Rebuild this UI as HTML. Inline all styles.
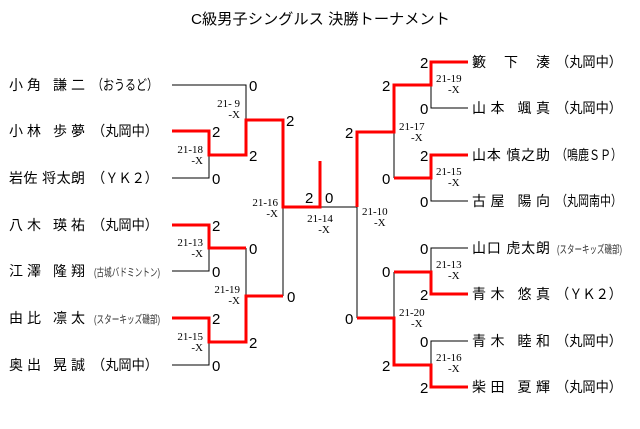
<!DOCTYPE html>
<html><head><meta charset="utf-8"><style>
html,body{margin:0;padding:0;background:#fff;}
svg{display:block;}
.n{font-family:"Liberation Sans","Noto Sans CJK JP",sans-serif;font-size:14px;fill:#000;}
.o{font-family:"Liberation Sans","Noto Sans CJK JP",sans-serif;font-size:14px;fill:#000;}
.os{font-family:"Liberation Sans","Noto Sans CJK JP",sans-serif;font-size:11px;fill:#333;}
.s{font-family:"Liberation Sans",sans-serif;font-size:15px;fill:#000;}
.m{font-family:"Liberation Serif",serif;font-size:11px;fill:#000;}
.t{font-family:"Liberation Sans","Noto Sans CJK JP",sans-serif;font-size:15px;fill:#000;}
</style></head><body>
<svg width="640" height="429" viewBox="0 0 640 429" xmlns="http://www.w3.org/2000/svg">
<text class="t" x="191" y="24" textLength="259" lengthAdjust="spacingAndGlyphs">C級男子シングルス 決勝トーナメント</text>

<g stroke="#000" stroke-width="1" fill="none">
<!-- left -->
<path d="M172 85H246V155"/>
<path d="M172 178H209V131"/>
<path d="M172 271H209V225"/>
<path d="M172 365H209V318"/>
<path d="M246 248V342"/>
<path d="M283 296V207"/>
<path d="M283 207H357"/>
<path d="M357 207V318"/>
<!-- right -->
<path d="M468 108H431V62"/>
<path d="M468 201H431V155"/>
<path d="M394 132V178"/>
<path d="M468 248H431V294"/>
<path d="M468 341H431V387"/>
<path d="M394 272V365"/>
</g>
<g stroke="#f00" stroke-width="3" fill="none" stroke-linejoin="miter">
<path d="M172 131H209V155H246V120H283V207H320V161"/>
<path d="M172 225H209V248H246"/>
<path d="M172 318H209V342H246V296H283"/>
<path d="M357 207V132H394V85H431V62H468"/>
<path d="M394 178H431V155H468"/>
<path d="M357 318H394V365H431V387H468"/>
<path d="M394 272H431V294H468"/>
</g>

<!-- left names -->
<g>
<text class="n" x="9" y="90" textLength="76" lengthAdjust="spacing">小角 謙二</text><text class="o" x="92" y="90" textLength="66" lengthAdjust="spacingAndGlyphs">（おうるど）</text>
<text class="n" x="9" y="136" textLength="76" lengthAdjust="spacing">小林 歩夢</text><text class="o" x="92" y="136" textLength="66" lengthAdjust="spacingAndGlyphs">（丸岡中）</text>
<text class="n" x="9" y="183" textLength="76" lengthAdjust="spacing">岩佐 将太朗</text><text class="o" x="92" y="183" textLength="66" lengthAdjust="spacingAndGlyphs">（ＹＫ２）</text>
<text class="n" x="9" y="230" textLength="76" lengthAdjust="spacing">八木 瑛祐</text><text class="o" x="92" y="230" textLength="66" lengthAdjust="spacingAndGlyphs">（丸岡中）</text>
<text class="n" x="9" y="276" textLength="76" lengthAdjust="spacing">江澤 隆翔</text><text class="os" x="94" y="276" textLength="66" lengthAdjust="spacingAndGlyphs">(古城バドミントン)</text>
<text class="n" x="9" y="323" textLength="76" lengthAdjust="spacing">由比 凛太</text><text class="os" x="94" y="323" textLength="66" lengthAdjust="spacingAndGlyphs">(スターキッズ磯部)</text>
<text class="n" x="9" y="370" textLength="76" lengthAdjust="spacing">奥出 晃誠</text><text class="o" x="92" y="370" textLength="66" lengthAdjust="spacingAndGlyphs">（丸岡中）</text>
</g>
<!-- right names -->
<g>
<text class="n" x="472" y="67" textLength="78" lengthAdjust="spacing">籔 下  湊</text><text class="o" x="556" y="67" textLength="66" lengthAdjust="spacingAndGlyphs">（丸岡中）</text>
<text class="n" x="472" y="113" textLength="78" lengthAdjust="spacing">山本 颯真</text><text class="o" x="556" y="113" textLength="66" lengthAdjust="spacingAndGlyphs">（丸岡中）</text>
<text class="n" x="472" y="160" textLength="78" lengthAdjust="spacing">山本 慎之助</text><text class="o" x="556" y="160" textLength="66" lengthAdjust="spacingAndGlyphs">（鳴鹿ＳＰ）</text>
<text class="n" x="472" y="206" textLength="78" lengthAdjust="spacing">古屋 陽向</text><text class="o" x="556" y="206" textLength="66" lengthAdjust="spacingAndGlyphs">（丸岡南中）</text>
<text class="n" x="472" y="253" textLength="78" lengthAdjust="spacing">山口 虎太朗</text><text class="os" x="557" y="253" textLength="65" lengthAdjust="spacingAndGlyphs">(スターキッズ磯部)</text>
<text class="n" x="472" y="299" textLength="78" lengthAdjust="spacing">青木 悠真</text><text class="o" x="556" y="299" textLength="66" lengthAdjust="spacingAndGlyphs">（ＹＫ２）</text>
<text class="n" x="472" y="346" textLength="78" lengthAdjust="spacing">青木 睦和</text><text class="o" x="556" y="346" textLength="66" lengthAdjust="spacingAndGlyphs">（丸岡中）</text>
<text class="n" x="472" y="392" textLength="78" lengthAdjust="spacing">柴田 夏輝</text><text class="o" x="556" y="392" textLength="66" lengthAdjust="spacingAndGlyphs">（丸岡中）</text>
</g>

<!-- scores left -->
<g class="s">
<text class="s" x="249" y="91">0</text>
<text class="s" x="212" y="137">2</text>
<text class="s" x="249" y="161">2</text>
<text class="s" x="212" y="184">0</text>
<text class="s" x="286" y="126">2</text>
<text class="s" x="212" y="231">2</text>
<text class="s" x="249" y="254">0</text>
<text class="s" x="212" y="277">0</text>
<text class="s" x="212" y="324">2</text>
<text class="s" x="249" y="348">2</text>
<text class="s" x="212" y="371">0</text>
<text class="s" x="287" y="302">0</text>
<text class="s" x="305" y="203">2</text>
<text class="s" x="325" y="203">0</text>
<!-- right -->
<text class="s" x="420" y="68">2</text>
<text class="s" x="420" y="114">0</text>
<text class="s" x="420" y="161">2</text>
<text class="s" x="420" y="207">0</text>
<text class="s" x="382" y="91">2</text>
<text class="s" x="382" y="184">0</text>
<text class="s" x="345" y="138">2</text>
<text class="s" x="420" y="254">0</text>
<text class="s" x="420" y="300">2</text>
<text class="s" x="420" y="347">0</text>
<text class="s" x="420" y="393">2</text>
<text class="s" x="382" y="277">0</text>
<text class="s" x="382" y="371">2</text>
<text class="s" x="345" y="324">0</text>
</g>

<!-- match labels -->
<g class="m" text-anchor="end">
<text class="m" x="240" y="107">21- 9</text><text class="m" x="240" y="118">-X</text>
<text class="m" x="203" y="153">21-18</text><text class="m" x="203" y="164">-X</text>
<text class="m" x="278" y="206">21-16</text><text class="m" x="278" y="217">-X</text>
<text class="m" x="203" y="246">21-13</text><text class="m" x="203" y="257">-X</text>
<text class="m" x="240" y="293">21-19</text><text class="m" x="240" y="304">-X</text>
<text class="m" x="203" y="340">21-15</text><text class="m" x="203" y="351">-X</text>
</g>
<g class="m" text-anchor="middle">
<text class="m" x="320" y="222">21-14</text><text class="m" x="324" y="233">-X</text>
</g>
<g class="m">
<text class="m" x="362" y="215">21-10</text><text class="m" x="374" y="226">-X</text>
<text class="m" x="399" y="130">21-17</text><text class="m" x="411" y="141">-X</text>
<text class="m" x="436" y="82">21-19</text><text class="m" x="448" y="93">-X</text>
<text class="m" x="436" y="175">21-15</text><text class="m" x="448" y="186">-X</text>
<text class="m" x="436" y="268">21-13</text><text class="m" x="448" y="279">-X</text>
<text class="m" x="399" y="316">21-20</text><text class="m" x="411" y="327">-X</text>
<text class="m" x="436" y="361">21-16</text><text class="m" x="448" y="372">-X</text>
</g>
</svg>
</body></html>
